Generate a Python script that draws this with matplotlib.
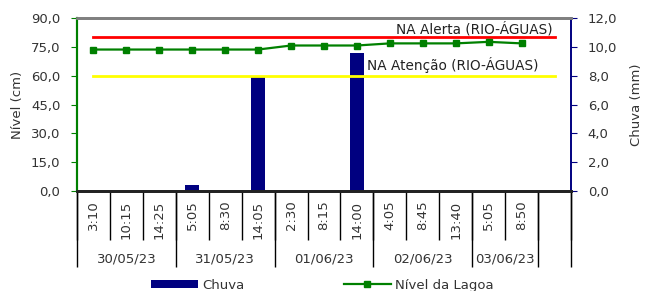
import numpy as np
import matplotlib
matplotlib.use('Agg')
import matplotlib.pyplot as plt
from matplotlib.lines import Line2D
from matplotlib.patches import Patch

plt.rcParams['font.family'] = ['DejaVu Sans']
plt.rcParams['font.size'] = 9.5

times = ['3:10', '10:15', '14:25', '5:05', '8:30', '14:05', '2:30', '8:15',
         '14:00', '4:05', '8:45', '13:40', '5:05', '8:50', '']
dates = ['30/05/23', '31/05/23', '01/06/23', '02/06/23', '03/06/23', '']
dateCounts = [3, 3, 3, 3, 2, 1]
nivel = [73.6, 73.6, 73.6, 73.6, 73.6, 73.6, 75.7, 75.7, 75.7,
         76.8, 76.8, 76.8, 77.6, 76.8, np.nan]
chuva = [0, 0, 0, 0.4, 0, 7.9, 0, 0, 9.6, 0, 0, 0, 0, 0, 0]
naAlerta = 80.0
naAtencao = 60.0

x = np.arange(len(times))
txt = '#333333'

fig = plt.figure(figsize=(6.51, 2.91), dpi=100)
ax = fig.add_axes([0.1183, 0.3436, 0.7588, 0.5945])
ax2 = ax.twinx()

# rain bars on the secondary axis, behind the lines
ax2.set_facecolor('#C0C0C0')
ax2.bar(x, chuva, width=0.43, color='#000080', zorder=2)
ax2.set_ylim(0, 12)
ax2.set_yticks(np.arange(0, 12.1, 2))
ax2.set_yticklabels([f'{v:.1f}'.replace('.', ',') for v in np.arange(0, 12.1, 2)])
ax2.grid(axis='y', color='white', linewidth=1.2, zorder=0)
ax2.set_axisbelow(True)
ax2.set_ylabel('Chuva (mm)', color=txt, labelpad=9)
ax2.tick_params(axis='y', colors=txt, length=4, pad=8)
ax2.tick_params(axis='y', color='#000080')

ax.set_zorder(ax2.get_zorder() + 1)
ax.patch.set_visible(False)

ax.plot(x, [naAlerta] * len(x), color='#FF0000', linewidth=2)
ax.plot(x, [naAtencao] * len(x), color='#FFFF00', linewidth=2)
ax.plot(x, nivel, color='#008000', linewidth=1.6, marker='s', markersize=4.5)

ax.text(13.95, naAlerta + 0.2, 'NA Alerta (RIO-ÁGUAS)', ha='right', va='bottom',
        color='#222222', fontsize=9.8)
ax.text(8.32, naAtencao + 1.6, 'NA Atenção (RIO-ÁGUAS)', ha='left', va='bottom',
        color='#222222', fontsize=9.8)

ax.set_ylim(0, 90)
ax.set_yticks(np.arange(0, 91, 15))
ax.set_yticklabels([f'{v:.1f}'.replace('.', ',') for v in np.arange(0, 91, 15)])
ax.set_ylabel('Nível (cm)', color=txt, labelpad=5)
ax.tick_params(axis='y', colors=txt, length=4, pad=8)
ax.tick_params(axis='y', color='#008000')

ax.set_xlim(-0.5, len(times) - 0.5)
ax.set_xticks(x)
ax.set_xticklabels(times, rotation=90)
ax.tick_params(axis='x', which='major', length=0, pad=7, colors=txt)
ax.set_xticks(np.arange(len(times) + 1) - 0.5, minor=True)
ax.tick_params(axis='x', which='minor', length=35, width=1, color='black')

# date group axis
bounds = np.concatenate([[0], np.cumsum(dateCounts)]) - 0.5
centers = (bounds[:-1] + bounds[1:]) / 2
sec = ax.secondary_xaxis('bottom')
sec.set_xticks(bounds)
sec.set_xticklabels([''] * len(bounds))
sec.tick_params(axis='x', which='major', length=55, width=1, color='black')
sec.set_xticks(centers, minor=True)
sec.set_xticklabels(dates, minor=True)
sec.tick_params(axis='x', which='minor', length=0, pad=44, colors=txt)
sec.spines['bottom'].set_visible(False)

for a in (ax, ax2):
    a.spines['top'].set_color('#808080')
    a.spines['top'].set_linewidth(2)
    a.spines['bottom'].set_color('#222222')
    a.spines['bottom'].set_linewidth(2)
    a.spines['left'].set_color('#008000')
    a.spines['left'].set_linewidth(1.5)
    a.spines['right'].set_color('#000080')
    a.spines['right'].set_linewidth(1.2)

handles = [Patch(facecolor='#000080'),
           Line2D([], [], color='#008000', linewidth=1.6, marker='s', markersize=4)]
fig.legend(handles, ['Chuva', 'Nível da Lagoa'], loc='center', ncol=2,
           bbox_to_anchor=(0.495, 0.02), frameon=False, handlelength=3.6,
           handleheight=0.6, columnspacing=7.5, handletextpad=0.3,
           labelcolor=txt, borderpad=0)

fig.savefig('out.png', dpi=100)
